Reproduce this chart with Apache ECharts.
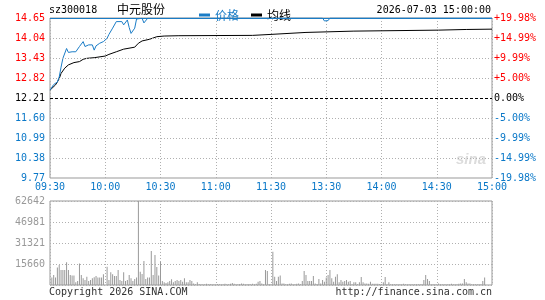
<!DOCTYPE html>
<html><head><meta charset="utf-8">
<script src="https://cdn.jsdelivr.net/npm/echarts@6/dist/echarts.min.js"></script>
<style>html,body{margin:0;padding:0;background:#fff}#c{width:545px;height:300px}</style>
</head><body><div id="c"></div>
<script>
const stockCode = 'sz300018';
const stockName = '中元股份';
const dateTime = '2026-07-03 15:00:00';
const copyrightText = 'Copyright 2026 SINA.COM';
const urlText = 'http://finance.sina.com.cn';
const timeTickLabels = ['09:30','10:00','10:30','11:00','11:30','13:30','14:00','14:30','15:00'];
const priceTicks = [9.77,10.38,10.99,11.60,12.21,12.82,13.43,14.04,14.65];
const pctTickLabels = ['-19.98%','-14.99%','-9.99%','-5.00%','0.00%','+5.00%','+9.99%','+14.99%','+19.98%'];
const prevClose = 12.21;
const volMax = 62642;
const volTickLabels = ['', '15660', '31321', '46981', '62642'];

// [minute since 09:30 (trading minutes), price]
const priceSeries = [
  [0,12.45],[1,12.50],[2,12.62],[4,12.70],[5,12.85],[6,13.15],[7,13.42],[8,13.45],[9,13.72],
  [10,13.60],[11,13.57],[12,13.62],[14,13.62],[16,13.78],[18,13.93],[19,13.78],[20,13.73],
  [21,13.83],[23,13.83],[24,13.67],[25,13.80],[27,13.88],[29,13.93],[31,14.03],[32,14.15],
  [34,14.34],[36,14.54],[37,14.59],[39,14.54],[40,14.44],[42,14.59],[43,14.36],[44,14.18],
  [46,14.34],[47,14.62],[48,14.65],[50,14.64],[51,14.50],[52,14.44],[53,14.64],[54,14.65],
  [122,14.65],[123,14.60],[124,14.65],[148,14.65],[149,14.56],[150,14.50],[151,14.57],[152,14.65],
  [240,14.65]
];
const avgSeries = [
  [0,12.45],[3,12.61],[4,12.70],[5,12.80],[6,12.96],[8,13.12],[10,13.22],[13,13.29],[16,13.32],
  [18,13.39],[20,13.42],[24,13.44],[30,13.49],[32,13.54],[36,13.62],[40,13.70],[46,13.76],
  [48,13.88],[50,13.95],[54,14.00],[58,14.08],[62,14.10],[70,14.11],[110,14.12],[111,14.14],
  [120,14.15],[121,14.18],[139,14.21],[140,14.23],[165,14.25],[166,14.27],[211,14.28],
  [212,14.30],[226,14.30],[227,14.31],[240,14.31]
];
// volume per minute, index = minute
const volumes = [
  0,5500,7500,5500,13000,15000,11200,11200,11200,17000,
  11200,7500,7000,7000,2000,3000,16000,7500,5000,3700,
  6200,3000,3700,5000,5700,6700,5500,5500,5500,8000,
  0,13700,3700,9500,8000,6700,6700,11200,3700,3000,
  9500,3000,3700,7500,5000,3000,4500,5500,62642,9950,
  8200,17900,4500,5500,5500,25350,7500,22400,13400,7000,
  17400,3000,2000,1500,2000,3000,4200,2000,3000,3700,
  3000,3700,2500,5000,2000,2000,3700,3000,1200,500,
  2000,800,500,600,500,1000,500,700,500,600,
  500,800,500,600,500,900,500,600,1000,1500,
  1000,600,500,800,1200,1000,600,500,700,500,
  1000,600,900,2500,3000,1200,600,11200,10400,800,
  600,24860,6200,3000,6200,7000,1200,1200,500,500,
  1000,1200,500,500,1000,1200,600,3000,10400,7500,
  3000,3000,3000,6700,1200,800,4500,1200,3700,2500,
  5500,7500,11200,5000,2500,6200,8000,2000,3700,2500,
  3000,3700,2500,3000,500,2000,2000,500,2000,6000,
  2000,1200,1200,1000,2500,1000,1000,1000,1000,800,
  600,2000,6000,500,2000,500,500,500,500,600,
  500,500,1000,500,500,600,500,500,600,500,
  500,600,500,3700,7500,4500,3000,500,500,600,
  500,1200,500,600,500,600,500,600,1000,500,
  600,500,1000,1200,1200,4500,2000,1200,1200,500,
  600,500,600,500,600,3000,5500,0,0,0,
  0
];

const BLUE = '#1a7cc6';
const TXTBLUE = '#0a78c8';
const RED = '#ff0000';
const MONO = '"DejaVu Sans Mono", "Liberation Mono", monospace';
const CJK = '"Noto Sans CJK SC", sans-serif';

function priceColor(v){
  if (Math.abs(v - prevClose) < 1e-6) return '#000';
  return v > prevClose ? RED : TXTBLUE;
}
function tickIndex(v){
  for (let i = 0; i < priceTicks.length; i++) if (Math.abs(priceTicks[i]-v) < 1e-6) return i;
  return -1;
}

const hLines = priceTicks.slice(1, -1).map(p => ({
  yAxis: p,
  lineStyle: Math.abs(p - prevClose) < 1e-6
    ? {color:'#000', type:[3,2], width:1}
    : {color:'#b0b0b0', type:[1,2], width:1}
}));
hLines.push({yAxis: priceTicks[priceTicks.length-1], lineStyle:{color:BLUE, type:'solid', width:1}});

const chart = echarts.init(document.getElementById('c'), null, {renderer:'canvas'});
chart.setOption({
  animation:false,
  backgroundColor:'#fff',
  legend:{
    left:194, top:4, icon:'rect', itemWidth:11, itemHeight:3, itemGap:12,
    textStyle:{fontSize:12, fontFamily:CJK},
    data:[{name:'价格', textStyle:{color:BLUE}},{name:'均线', textStyle:{color:'#000'}}]
  },
  grid:[
    {left:50, top:18, width:442, height:160, show:true, borderColor:'#999', borderWidth:1},
    {left:50, top:201, width:442, height:84, show:true, borderColor:'#999', borderWidth:1}
  ],
  xAxis:[
    {type:'value', gridIndex:0, min:0, max:240, interval:30,
     axisLine:{show:false}, axisTick:{show:false},
     axisLabel:{margin:4, color:TXTBLUE, fontSize:10, fontFamily:MONO,
       formatter:(v)=>timeTickLabels[Math.round(v/30)]},
     splitLine:{show:true, lineStyle:{color:'#b0b0b0', type:[1,2]}}},
    {type:'value', gridIndex:1, min:0, max:240, interval:30,
     axisLine:{show:false}, axisTick:{show:false}, axisLabel:{show:false},
     splitLine:{show:true, lineStyle:{color:'#b0b0b0', type:[1,2]}}}
  ],
  yAxis:[
    {type:'value', gridIndex:0, min:priceTicks[0], max:priceTicks[priceTicks.length-1],
     axisLine:{show:false}, axisTick:{show:false, customValues:priceTicks}, splitLine:{show:false},
     axisLabel:{customValues:priceTicks, margin:5, fontSize:10, fontFamily:MONO,
       formatter:(v)=>{const i=tickIndex(v); const c=priceColor(v); return '{'+(c===RED?'r':c==='#000'?'k':'b')+'|'+priceTicks[i].toFixed(2)+'}';},
       rich:{r:{color:RED,fontSize:10,fontFamily:MONO},k:{color:'#000',fontSize:10,fontFamily:MONO},b:{color:TXTBLUE,fontSize:10,fontFamily:MONO}}}},
    {type:'value', gridIndex:0, position:'right', min:priceTicks[0], max:priceTicks[priceTicks.length-1],
     axisLine:{show:false}, axisTick:{show:false, customValues:priceTicks}, splitLine:{show:false},
     axisLabel:{customValues:priceTicks, margin:2, fontSize:10, fontFamily:MONO,
       formatter:(v)=>{const i=tickIndex(v); const c=priceColor(v); return '{'+(c===RED?'r':c==='#000'?'k':'b')+'|'+pctTickLabels[i]+'}';},
       rich:{r:{color:RED,fontSize:10,fontFamily:MONO},k:{color:'#000',fontSize:10,fontFamily:MONO},b:{color:TXTBLUE,fontSize:10,fontFamily:MONO}}}},
    {type:'value', gridIndex:1, min:0, max:volMax, interval:volMax/4,
     axisLine:{show:false}, axisTick:{show:false},
     axisLabel:{margin:5, color:'#999', fontSize:10, fontFamily:MONO,
       formatter:(v)=>volTickLabels[Math.round(v/(volMax/4))]},
     splitLine:{show:true, lineStyle:{color:'#b0b0b0', type:[1,2]}}}
  ],
  series:[
    {name:'价格', type:'line', xAxisIndex:0, yAxisIndex:0, data:priceSeries, showSymbol:false,
     lineStyle:{color:BLUE, width:1}, itemStyle:{color:BLUE}, z:4,
     markLine:{silent:true, symbol:'none', label:{show:false}, animation:false, data:hLines}},
    {name:'均线', type:'line', xAxisIndex:0, yAxisIndex:0, data:avgSeries, showSymbol:false,
     lineStyle:{color:'#000', width:1}, itemStyle:{color:'#000'}, z:3},
    {name:'成交量', type:'bar', xAxisIndex:1, yAxisIndex:2, barWidth:1,
     data:volumes.map((v,i)=>[i,v]), itemStyle:{color:'#999'}}
  ],
  graphic:[
    {type:'text', left:49, top:5, style:{text:stockCode, font:'10px '+MONO, fill:'#000'}},
    {type:'text', left:117, top:3, style:{text:stockName, font:'12px '+CJK, fill:'#000'}},
    {type:'text', right:54, top:5, style:{text:dateTime, font:'10px '+MONO, fill:'#000'}},
    {type:'text', left:49, top:287, style:{text:copyrightText, font:'10px '+MONO, fill:'#333'}},
    {type:'text', right:53, top:287, style:{text:urlText, font:'10px '+MONO, fill:'#333'}},
    {type:'text', left:456, top:152, style:{text:'sina', font:'italic bold 15px "Liberation Sans", sans-serif', fill:'#dcdcdc'}}
  ]
});
</script></body></html>
